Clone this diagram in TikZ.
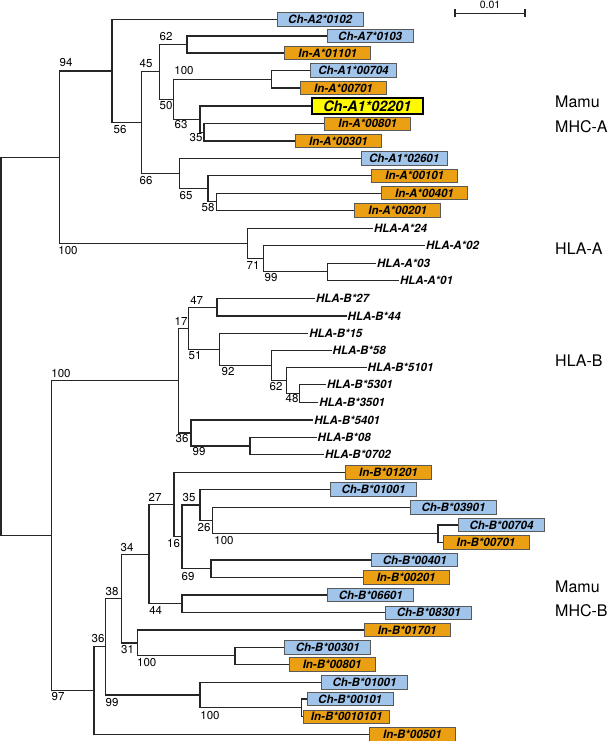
\documentclass[tikz,border=0pt]{standalone}
\usepackage{fontspec}
\setmainfont{TeX Gyre Heros}
\definecolor{chblue}{RGB}{160,196,234}
\definecolor{inorange}{RGB}{234,160,18}
\definecolor{hiyellow}{RGB}{255,250,0}
\tikzset{
  br/.style={line width=1.25pt, line join=miter, draw=black!85},
  leafbox/.style={draw=black!65, line width=0.9pt, anchor=west, minimum width=86pt, minimum height=13.3pt, inner sep=0pt, font=\fontsize{11.5}{12}\selectfont\bfseries\itshape},
  chbox/.style={leafbox, fill=chblue},
  inbox/.style={leafbox, fill=inorange},
  hibox/.style={draw=black, line width=1.6pt, anchor=west, fill=hiyellow, minimum width=111pt, minimum height=16pt, inner sep=0pt, font=\fontsize{14.4}{15}\selectfont\bfseries\itshape},
  hla/.style={anchor=west, inner xsep=0.8pt, inner ysep=0pt, font=\fontsize{11.5}{12}\selectfont\bfseries\itshape},
  bs/.style={inner sep=0pt, font=\fontsize{11.5}{12}\selectfont},
  side/.style={anchor=west, inner sep=0pt, font=\fontsize{16}{18}\selectfont},
}
\begin{document}
\begin{tikzpicture}[x=1pt,y=-1pt]
\useasboundingbox (0,0) rectangle (609,741);
% ---------- internal nodes ----------
\coordinate (root) at (1,346.45);
\coordinate (a94) at (59.3,157.3);
\coordinate (b56) at (112,71.1);
\coordinate (c45) at (141.3,122.7);
\coordinate (d50) at (159.7,71.85);
\coordinate (e62) at (187,44.5);
\coordinate (f63) at (173.7,99.2);
\coordinate (n100a) at (271.5,79.25);
\coordinate (g) at (200,119.2);
\coordinate (h35) at (204,132.35);
\coordinate (i66) at (179.3,173.55);
\coordinate (j65) at (208,188.8);
\coordinate (k58) at (216.3,201.85);
\coordinate (hlaA) at (247.3,243.5);
\coordinate (a71) at (263.3,258.75);
\coordinate (a99) at (327.3,271.8);
\coordinate (m97) at (51.7,535.6);
\coordinate (b17) at (178.3,380.65);
\coordinate (b51) at (188.3,328.3);
\coordinate (b47) at (217,307.15);
\coordinate (b92) at (219.7,349.4);
\coordinate (b62) at (271.7,365.5);
\coordinate (bx) at (286.7,380.3);
\coordinate (b48) at (299.3,393.3);
\coordinate (b36) at (191,433);
\coordinate (b99) at (250,446);
\coordinate (m36) at (94,690.55);
\coordinate (m38) at (105.7,646.8);
\coordinate (m34) at (121.7,598.55);
\coordinate (m27) at (149,554.2);
\coordinate (m16) at (174,504.55);
\coordinate (m35) at (182,536.8);
\coordinate (m26) at (200,504.9);
\coordinate (m100c) at (212.3,520.5);
\coordinate (m707) at (438,533.75);
\coordinate (m69) at (211,568.65);
\coordinate (m44) at (182,603.85);
\coordinate (m31) at (137.3,642.9);
\coordinate (m100b) at (235,655.8);
\coordinate (m100d) at (200,695.1);
\coordinate (m101) at (301.5,707.85);
% ---------- leaves: Mamu-A ----------
\node[chbox] (L0) at (276.7,19.5) {Ch-A2*0102};
\node[chbox] (L1) at (326.7,36) {Ch-A7*0103};
\node[inbox] (L2) at (284.3,53) {In-A*01101};
\node[chbox] (L3) at (310,70.5) {Ch-A1*00704};
\node[inbox] (L4) at (300,88) {In-A*00701};
\node[hibox] (L5) at (311,106) {Ch-A1*02201};
\node[inbox] (L6) at (324.3,123.7) {In-A*00801};
\node[inbox] (L7) at (295,141) {In-A*00301};
\node[chbox] (L8) at (360.7,158.3) {Ch-A1*02601};
\node[inbox] (L9) at (371.3,175.7) {In-A*00101};
\node[inbox] (L10) at (381,193.2) {In-A*00401};
\node[inbox] (L11) at (354.3,210.5) {In-A*00201};
% ---------- leaves: HLA-A ----------
\node[hla] (L12) at (373,228.3) {HLA-A*24};
\node[hla] (L13) at (425,245.7) {HLA-A*02};
\node[hla] (L14) at (376,263.3) {HLA-A*03};
\node[hla] (L15) at (399,280.3) {HLA-A*01};
% ---------- leaves: HLA-B ----------
\node[hla] (L16) at (315,298.3) {HLA-B*27};
\node[hla] (L17) at (346.7,316) {HLA-B*44};
\node[hla] (L18) at (308.3,333.3) {HLA-B*15};
\node[hla] (L19) at (331.7,350.7) {HLA-B*58};
\node[hla] (L20) at (366.7,367.3) {HLA-B*5101};
\node[hla] (L21) at (326,384.3) {HLA-B*5301};
\node[hla] (L22) at (318.3,402.3) {HLA-B*3501};
\node[hla] (L23) at (313.3,420) {HLA-B*5401};
\node[hla] (L24) at (316.7,437.7) {HLA-B*08};
\node[hla] (L25) at (324,454.3) {HLA-B*0702};
% ---------- leaves: Mamu-B ----------
\node[inbox] (L26) at (345,472.3) {In-B*01201};
\node[chbox] (L27) at (330,489.3) {Ch-B*01001};
\node[chbox] (L28) at (410,507.3) {Ch-B*03901};
\node[chbox] (L29) at (458,525) {Ch-B*00704};
\node[inbox] (L30) at (442.5,542.5) {In-B*00701};
\node[chbox] (L31) at (371.3,560) {Ch-B*00401};
\node[inbox] (L32) at (362.7,577.3) {In-B*00201};
\node[chbox] (L33) at (327.3,595) {Ch-B*06601};
\node[chbox] (L34) at (385.3,612.7) {Ch-B*08301};
\node[inbox] (L35) at (363.7,630) {In-B*01701};
\node[chbox] (L36) at (284.3,647.3) {Ch-B*00301};
\node[inbox] (L37) at (288.7,664.3) {In-B*00801};
\node[chbox] (L38) at (321,682.3) {Ch-B*01001};
\node[chbox] (L39) at (306.7,699) {Ch-B*00101};
\node[inbox] (L40) at (303.3,716.7) {In-B*0010101};
\node[inbox] (L41) at (369,734.3) {In-B*00501};
% ---------- branches ----------
\draw[br] (root) |- (a94);
\draw[br] (root) |- (m97);
\draw[br] (a94) |- (b56);
\draw[br] (a94) |- (hlaA);
\draw[br] (b56) |- (L0.west);
\draw[br] (b56) |- (c45);
\draw[br] (c45) |- (d50);
\draw[br] (c45) |- (i66);
\draw[br] (d50) |- (e62);
\draw[br] (d50) |- (f63);
\draw[br] (e62) |- (L1.west);
\draw[br] (e62) |- (L2.west);
\draw[br] (f63) |- (n100a);
\draw[br] (f63) |- (g);
\draw[br] (n100a) |- (L3.west);
\draw[br] (n100a) |- (L4.west);
\draw[br] (g) |- (L5.west);
\draw[br] (g) |- (h35);
\draw[br] (h35) |- (L6.west);
\draw[br] (h35) |- (L7.west);
\draw[br] (i66) |- (L8.west);
\draw[br] (i66) |- (j65);
\draw[br] (j65) |- (L9.west);
\draw[br] (j65) |- (k58);
\draw[br] (k58) |- (L10.west);
\draw[br] (k58) |- (L11.west);
\draw[br] (hlaA) |- (L12.west);
\draw[br] (hlaA) |- (a71);
\draw[br] (a71) |- (L13.west);
\draw[br] (a71) |- (a99);
\draw[br] (a99) |- (L14.west);
\draw[br] (a99) |- (L15.west);
\draw[br] (m97) |- (b17);
\draw[br] (m97) |- (m36);
\draw[br] (b17) |- (b51);
\draw[br] (b17) |- (b36);
\draw[br] (b51) |- (b47);
\draw[br] (b51) |- (b92);
\draw[br] (b47) |- (L16.west);
\draw[br] (b47) |- (L17.west);
\draw[br] (b92) |- (L18.west);
\draw[br] (b92) |- (b62);
\draw[br] (b62) |- (L19.west);
\draw[br] (b62) |- (bx);
\draw[br] (bx) |- (L20.west);
\draw[br] (bx) |- (b48);
\draw[br] (b48) |- (L21.west);
\draw[br] (b48) |- (L22.west);
\draw[br] (b36) |- (L23.west);
\draw[br] (b36) |- (b99);
\draw[br] (b99) |- (L24.west);
\draw[br] (b99) |- (L25.west);
\draw[br] (m36) |- (m38);
\draw[br] (m36) |- (L41.west);
\draw[br] (m38) |- (m34);
\draw[br] (m38) |- (m100d);
\draw[br] (m34) |- (m27);
\draw[br] (m34) |- (m31);
\draw[br] (m27) |- (m16);
\draw[br] (m27) |- (m44);
\draw[br] (m16) |- (L26.west);
\draw[br] (m16) |- (m35);
\draw[br] (m35) |- (m26);
\draw[br] (m35) |- (m69);
\draw[br] (m26) |- (L27.west);
\draw[br] (m26) |- (m100c);
\draw[br] (m100c) |- (L28.west);
\draw[br] (m100c) |- (m707);
\draw[br] (m707) |- (L29.west);
\draw[br] (m707) |- (L30.west);
\draw[br] (m69) |- (L31.west);
\draw[br] (m69) |- (L32.west);
\draw[br] (m44) |- (L33.west);
\draw[br] (m44) |- (L34.west);
\draw[br] (m31) |- (L35.west);
\draw[br] (m31) |- (m100b);
\draw[br] (m100b) |- (L36.west);
\draw[br] (m100b) |- (L37.west);
\draw[br] (m100d) |- (L38.west);
\draw[br] (m100d) |- (m101);
\draw[br] (m101) |- (L39.west);
\draw[br] (m101) |- (L40.west);
% ---------- bootstrap values ----------
\node[bs] (v1) at (66,63) {94};
\node[bs] (v2) at (68,251) {100};
\node[bs] (v3) at (120,130) {56};
\node[bs] (v4) at (146,64) {45};
\node[bs] (v5) at (146,181) {66};
\node[bs] (v6) at (166,37) {62};
\node[bs] (v7) at (166,106) {50};
\node[bs] (v8) at (184,71) {100};
\node[bs] (v9) at (181,125) {63};
\node[bs] (v10) at (196,138) {35};
\node[bs] (v11) at (186,196) {65};
\node[bs] (v12) at (208,208) {58};
\node[bs] (v13) at (253,265) {71};
\node[bs] (v14) at (271,278) {99};
\node[bs] (v15) at (61,373.5) {100};
\node[bs] (v16) at (58,697) {97};
\node[bs] (v17) at (181,321) {17};
\node[bs] (v18) at (182,439) {36};
\node[bs] (v19) at (196.7,300) {47};
\node[bs] (v20) at (195,356) {51};
\node[bs] (v21) at (228,372) {92};
\node[bs] (v22) at (276,386.7) {62};
\node[bs] (v23) at (292,399) {48};
\node[bs] (v24) at (199,452) {99};
\node[bs] (v25) at (155,497.5) {27};
\node[bs] (v26) at (155.7,610) {44};
\node[bs] (v27) at (173.5,544) {16};
\node[bs] (v28) at (189,498) {35};
\node[bs] (v29) at (188,576.7) {69};
\node[bs] (v30) at (204,528) {26};
\node[bs] (v31) at (224,541) {100};
\node[bs] (v32) at (127,547.5) {34};
\node[bs] (v33) at (127.5,650) {31};
\node[bs] (v34) at (112,591.7) {38};
\node[bs] (v35) at (112,703) {99};
\node[bs] (v36) at (98,639) {36};
\node[bs] (v37) at (146.7,662.5) {100};
\node[bs] (v38) at (210,715.5) {100};
% ---------- group labels ----------
\node[side] (s1) at (555,101.7) {Mamu};
\node[side] (s2) at (555,126.3) {MHC-A};
\node[side] (s3) at (555,248.7) {HLA-A};
\node[side] (s4) at (555,360.8) {HLA-B};
\node[side] (s5) at (555,586.3) {Mamu};
\node[side] (s6) at (555,610.8) {MHC-B};
% ---------- scale bar ----------
\coordinate (sbl) at (455,13.3);
\coordinate (sbr) at (525,13.3);
\draw[br] (sbl) -- (sbr);
\draw[br] ([yshift=-4pt]sbl) -- ([yshift=4pt]sbl);
\draw[br] ([yshift=-4pt]sbr) -- ([yshift=4pt]sbr);
\node[inner sep=0pt, font=\fontsize{10.5}{11}\selectfont] (sbt) at (490,5) {0.01};
\end{tikzpicture}
\end{document}
